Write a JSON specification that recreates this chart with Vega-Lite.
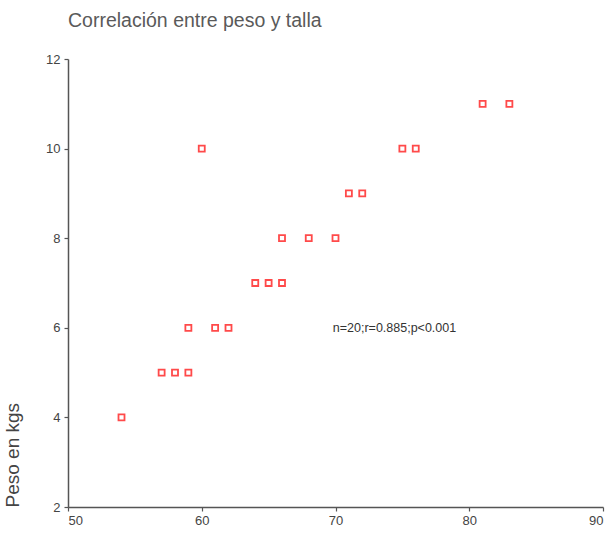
{
  "$schema": "https://vega.github.io/schema/vega-lite/v6.json",
  "width": 535,
  "height": 448,
  "autosize": "none",
  "padding": {"left": 68, "top": 59, "right": 8, "bottom": 26},
  "background": "white",
  "title": {"text": "Correlación entre peso y talla", "anchor": "start", "font": "Liberation Sans", "fontSize": 19.5, "fontWeight": "normal", "color": "#5a5a5a", "offset": 22, "frame": "group"},
  "config": {"view": {"stroke": null}, "axis": {"grid": false, "domainColor": "#555555", "domainWidth": 1.5, "tickColor": "#555555", "tickWidth": 1.2, "tickSize": 4, "labelFont": "Liberation Sans", "labelFontSize": 13, "labelColor": "#444444", "titleFont": "Liberation Sans", "titleFontWeight": "normal", "titleColor": "#444444"}},
  "data": {"values": [
    {"talla": 54, "peso": 4},
    {"talla": 57, "peso": 5},
    {"talla": 58, "peso": 5},
    {"talla": 59, "peso": 5},
    {"talla": 59, "peso": 6},
    {"talla": 61, "peso": 6},
    {"talla": 62, "peso": 6},
    {"talla": 60, "peso": 10},
    {"talla": 64, "peso": 7},
    {"talla": 65, "peso": 7},
    {"talla": 66, "peso": 7},
    {"talla": 66, "peso": 8},
    {"talla": 68, "peso": 8},
    {"talla": 70, "peso": 8},
    {"talla": 71, "peso": 9},
    {"talla": 72, "peso": 9},
    {"talla": 75, "peso": 10},
    {"talla": 76, "peso": 10},
    {"talla": 81, "peso": 11},
    {"talla": 83, "peso": 11}
  ]},
  "layer": [
    {
      "mark": {"type": "point", "shape": "square", "filled": false, "color": "#ff4a4a", "size": 36, "strokeWidth": 1.8, "opacity": 1},
      "encoding": {
        "x": {"field": "talla", "type": "quantitative", "scale": {"domain": [50, 90], "nice": false, "zero": false}, "axis": {"values": [50, 60, 70, 80, 90], "title": null, "labelPadding": 3}},
        "y": {"field": "peso", "type": "quantitative", "scale": {"domain": [2, 12], "nice": false, "zero": false}, "axis": {"values": [2, 4, 6, 8, 10, 12], "title": "Peso en kgs", "titleFontSize": 19, "titleAnchor": "start", "titleX": -46, "titlePadding": 18, "labelPadding": 4}}
      }
    },
    {
      "data": {"values": [{"talla": 69.8, "peso": 6, "label": "n=20;r=0.885;p<0.001"}]},
      "mark": {"type": "text", "align": "left", "baseline": "middle", "font": "Liberation Sans", "fontSize": 12.5, "color": "#333333"},
      "encoding": {
        "x": {"field": "talla", "type": "quantitative"},
        "y": {"field": "peso", "type": "quantitative"},
        "text": {"field": "label"}
      }
    }
  ]
}
